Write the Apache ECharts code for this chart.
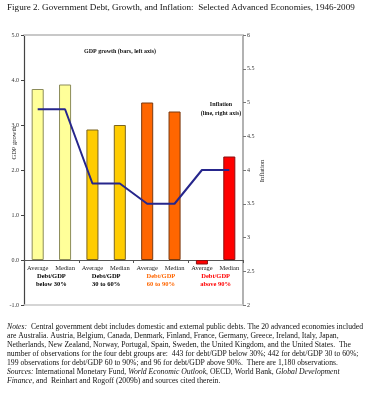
<!DOCTYPE html>
<html><head><meta charset="utf-8">
<script src="https://cdn.jsdelivr.net/npm/echarts@6/dist/echarts.min.js"></script>
<style>html,body{margin:0;padding:0;background:#fff}#c{width:392px;height:398px}</style>
</head><body><div id="c"></div>
<script>
const barCategories = ['Average','Median','Average','Median','Average','Median','Average','Median'];
const groupLabels = ['Debt/GDP\nbelow 30%','Debt/GDP\n30 to 60%','Debt/GDP\n60 to 90%','Debt/GDP\nabove 90%'];
const gdpGrowth = [3.8, 3.9, 2.9, 3.0, 3.5, 3.3, -0.1, 2.3];
const inflation = [4.9, 4.9, 3.8, 3.8, 3.5, 3.5, 4.0, 4.0];
const leftTicks = [-1, 5, 1];
const rightTicks = [2, 6, 0.5];
const barColors = ['#FFFF99','#FFFF99','#FFCC00','#FFCC00','#FF6600','#FF6600','#FF0000','#FF0000'];
const barBorders = ['#8C8C5A','#8C8C5A','#7A6420','#7A6420','#7A3A10','#7A3A10','#8A1010','#8A1010'];
const groupColors = ['#000','#000','#FF6600','#FF0000'];
const titleText = 'Figure 2. Government Debt, Growth, and Inflation:  Selected Advanced Economies, 1946-2009';
const notesLines = [
 '{i|Notes:}  Central government debt includes domestic and external public debts. The 20 advanced economies included',
 'are Australia. Austria, Belgium, Canada, Denmark, Finland, France, Germany, Greece, Ireland, Italy, Japan,',
 'Netherlands, New Zealand, Norway, Portugal, Spain, Sweden, the United Kingdom, and the United States.  The',
 'number of observations for the four debt groups are:  443 for debt/GDP below 30%; 442 for debt/GDP 30 to 60%;',
 '199 observations for debt/GDP 60 to 90%; and 96 for debt/GDP above 90%.  There are 1,180 observations.',
 '{i|Sources:} International Monetary Fund, {i|World Economic Outlook}, OECD, World Bank, {i|Global Development}',
 '{i|Finance}, and  Reinhart and Rogoff (2009b) and sources cited therein.'
];
const FONT = '"Liberation Serif", "DejaVu Serif", serif';

const chart = echarts.init(document.getElementById('c'), null, {renderer:'canvas'});
const grid = {left:24, right:149, top:35, bottom:93};
chart.setOption({
  animation:false,
  textStyle:{fontFamily:FONT},
  grid:grid,
  xAxis:[
    {type:'category', data:barCategories, position:'bottom',
     axisLine:{onZero:true, onZeroAxisIndex:0, lineStyle:{color:'#555', width:1}},
     axisTick:{show:true, length:3, lineStyle:{color:'#555'}},
     axisLabel:{show:false},
     splitLine:{show:false}},
    {type:'category', data:barCategories, position:'bottom',
     axisLine:{onZero:false, lineStyle:{color:'#c8c8c8', width:1.5}},
     axisTick:{show:false},
     axisLabel:{fontFamily:FONT, fontSize:6.5, color:'#222', inside:true, margin:33, interval:0},
     splitLine:{show:false}},
    {type:'category', data:groupLabels, position:'bottom',
     axisLine:{onZero:false, show:false},
     axisTick:{show:false},
     axisLabel:{fontFamily:FONT, fontSize:6.5, fontWeight:'bold', inside:true, margin:16, lineHeight:8.5, interval:0,
       color:function(v,i){return groupColors[i];}},
     splitLine:{show:false}},
    {type:'category', data:barCategories, position:'top',
     axisLine:{onZero:false, lineStyle:{color:'#c8c8c8', width:2}},
     axisTick:{show:false}, axisLabel:{show:false}}
  ],
  yAxis:[
    {type:'value', min:leftTicks[0], max:leftTicks[1], interval:leftTicks[2], position:'left',
     axisLine:{show:true, onZero:false, lineStyle:{color:'#444', width:1.2}},
     axisTick:{show:true, length:3, lineStyle:{color:'#444'}},
     axisLabel:{fontFamily:FONT, fontSize:6, color:'#333', margin:5,
       formatter:function(v){return v.toFixed(1);}},
     splitLine:{show:false}},
    {type:'value', min:rightTicks[0], max:rightTicks[1], interval:rightTicks[2], position:'right',
     axisLine:{show:true, onZero:false, lineStyle:{color:'#999', width:1.5}},
     axisTick:{show:true, length:3, inside:false, lineStyle:{color:'#777'}},
     axisLabel:{fontFamily:FONT, fontSize:6, color:'#333', margin:4},
     splitLine:{show:false}}
  ],
  series:[
    {type:'bar', xAxisIndex:0, yAxisIndex:0, barWidth:'44%',
     data:gdpGrowth.map(function(v,i){return {value:v, itemStyle:{color:barColors[i], borderColor:barBorders[i], borderWidth:1}};})},
    {type:'line', xAxisIndex:0, yAxisIndex:1, data:inflation, symbol:'none',
     lineStyle:{color:'#26268C', width:2}}
  ],
  graphic:[
    {type:'text', left:7, top:3, style:{text:titleText, font:'9.1px '+FONT, fill:'#111'}},
    {type:'text', x:120, y:51, style:{text:'GDP growth (bars, left axis)', font:'bold 6px '+FONT, fill:'#111', align:'center', verticalAlign:'middle'}},
    {type:'text', x:221, y:109, style:{text:'Inflation\n(line, right axis)', font:'bold 6px '+FONT, fill:'#111', align:'center', verticalAlign:'middle', lineHeight:8.5}},
    {type:'text', x:14, y:143, rotation:Math.PI/2, style:{text:'GDP growth', font:'6.5px '+FONT, fill:'#222', align:'center', verticalAlign:'middle'}},
    {type:'text', x:262, y:171, rotation:Math.PI/2, style:{text:'Inflation', font:'6.5px '+FONT, fill:'#222', align:'center', verticalAlign:'middle'}},
    {type:'text', left:7, top:323, style:{text:notesLines.join('\n'), font:'7.7px '+FONT, fill:'#111', lineHeight:8.9,
      rich:{i:{fontStyle:'italic', fontSize:7.7, fontFamily:FONT}}}}
  ]
});
</script></body></html>
